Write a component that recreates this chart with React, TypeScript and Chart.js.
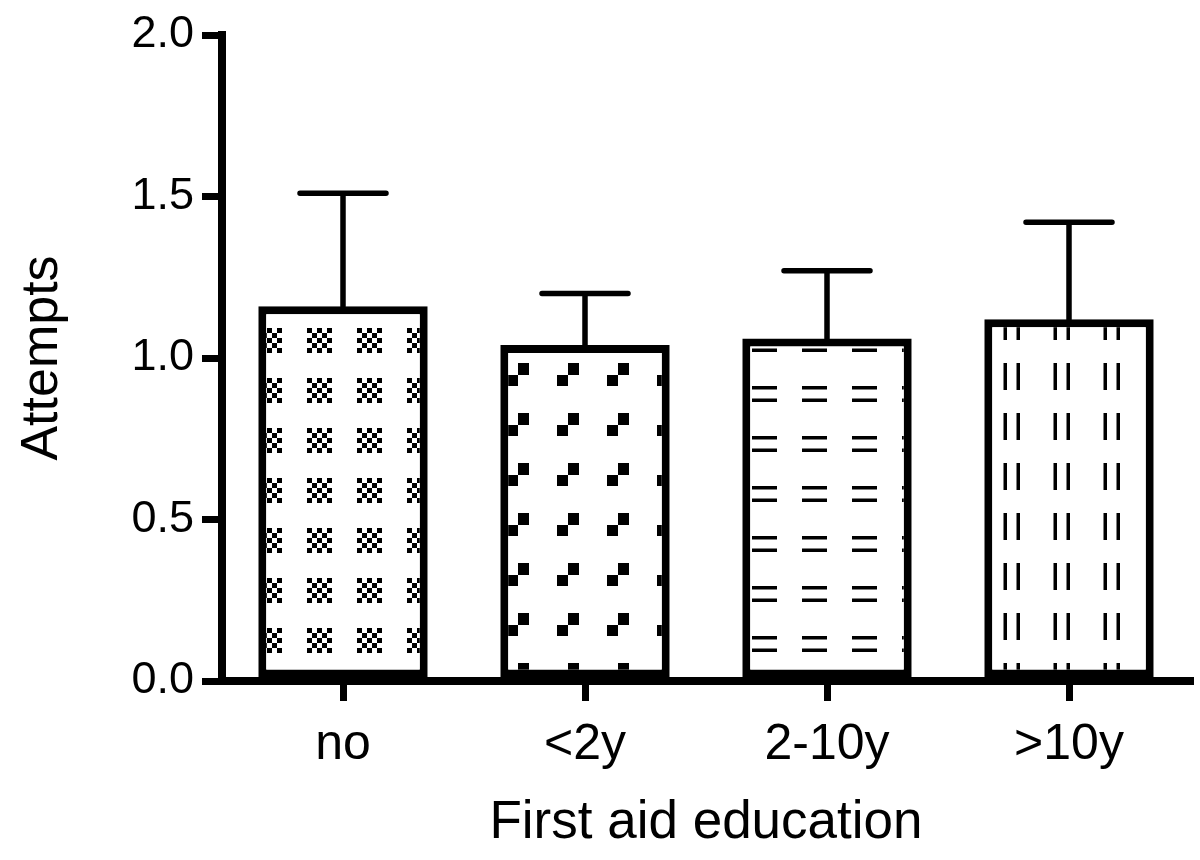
import React, { useEffect, useRef } from "react";
import { Chart, registerables } from "chart.js";

Chart.register(...registerables);

const categories = ["no", "<2y", "2-10y", ">10y"];
const means = [1.16, 1.04, 1.06, 1.12];
const upperErrors = [0.35, 0.16, 0.21, 0.3];
const yTicks = [0, 0.5, 1.0, 1.5, 2.0];
const xTitle = "First aid education";
const yTitle = "Attempts";

const FONT = "'Liberation Sans', Arial, Helvetica, sans-serif";
const P = 50;

function makePattern(draw: (c: CanvasRenderingContext2D) => void): CanvasPattern | string {
  const cv = document.createElement("canvas");
  cv.width = P;
  cv.height = P;
  const c = cv.getContext("2d");
  if (!c) return "#fff";
  c.fillStyle = "#fff";
  c.fillRect(0, 0, P, P);
  c.fillStyle = "#000";
  for (const dx of [-P, 0, P]) {
    for (const dy of [-P, 0, P]) {
      c.save();
      c.translate(dx, dy);
      draw(c);
      c.restore();
    }
  }
  return c.createPattern(cv, "repeat") || "#fff";
}

function buildPatterns() {
  const p1 = makePattern((c) => {
    for (let r = 0; r < 5; r++) {
      for (let k = 0; k < 5; k++) {
        if ((r + k) % 2 === 0) c.fillRect(7 + k * 5, 28 + r * 5, 5, 5);
      }
    }
  });
  const p2 = makePattern((c) => {
    c.fillRect(18, 13, 11, 12);
    c.fillRect(7, 25, 11, 11);
  });
  const p3 = makePattern((c) => {
    c.fillRect(2, 36, 25, 3.5);
    c.fillRect(2, 48.5, 25, 3.5);
  });
  const p4 = makePattern((c) => {
    c.fillRect(3.5, 13, 3.5, 27);
    c.fillRect(16.5, 13, 3.5, 27);
  });
  return [p1, p2, p3, p4];
}

const errorBarPlugin = {
  id: "errorBars",
  afterDatasetsDraw(chart: any) {
    const ctx = chart.ctx as CanvasRenderingContext2D;
    const meta = chart.getDatasetMeta(0);
    const y = chart.scales.y;
    ctx.save();
    ctx.strokeStyle = "#000";
    ctx.lineWidth = 5.5;
    ctx.lineCap = "round";
    meta.data.forEach((bar: any, i: number) => {
      const x = bar.x;
      const top = y.getPixelForValue(means[i]);
      const e = y.getPixelForValue(means[i] + upperErrors[i]);
      ctx.beginPath();
      ctx.moveTo(x, top);
      ctx.lineTo(x, e);
      ctx.moveTo(x - 43, e);
      ctx.lineTo(x + 43, e);
      ctx.stroke();
    });
    ctx.restore();
  },
};

export default function App() {
  const ref = useRef<HTMLCanvasElement | null>(null);

  useEffect(() => {
    if (!ref.current) return;
    const patterns = buildPatterns();
    const chart = new Chart(ref.current, {
      type: "bar",
      data: {
        labels: categories,
        datasets: [
          {
            data: means,
            backgroundColor: patterns as any,
            borderColor: "#000",
            borderWidth: 8,
            borderSkipped: false,
            barPercentage: 0.7,
            categoryPercentage: 1,
          },
        ],
      },
      options: {
        animation: false,
        responsive: false,
        layout: { padding: { top: 35, right: 10, left: 0, bottom: 0 } },
        plugins: {
          legend: { display: false },
          tooltip: { enabled: false },
        },
        scales: {
          x: {
            type: "category",
            offset: true,
            grid: {
              display: true,
              drawOnChartArea: false,
              drawTicks: true,
              tickLength: 20,
              lineWidth: 7,
              color: "#000",
              offset: false,
            },
            border: { display: true, width: 8, color: "#000" },
            ticks: {
              font: { family: FONT, size: 50 },
              color: "#000",
              padding: 14,
              maxRotation: 0,
            },
            title: {
              display: true,
              text: xTitle,
              font: { family: FONT, size: 53 },
              color: "#000",
              padding: { top: 10, bottom: 5 },
            },
            afterFit: (s: any) => {
              s.height = 179;
            },
          },
          y: {
            type: "linear",
            min: 0,
            max: 2,
            afterBuildTicks: (s: any) => {
              s.ticks = yTicks.map((v) => ({ value: v }));
            },
            grid: {
              display: true,
              drawOnChartArea: false,
              drawTicks: true,
              tickLength: 20,
              lineWidth: 7,
              color: "#000",
            },
            border: { display: true, width: 8, color: "#000" },
            ticks: {
              font: { family: FONT, size: 45 },
              color: "#000",
              padding: 8,
              callback: (v: any) => Number(v).toFixed(1),
            },
            title: {
              display: true,
              text: yTitle,
              font: { family: FONT, size: 52 },
              color: "#000",
              padding: { top: 11, bottom: 0 },
            },
            afterFit: (s: any) => {
              s.width = 222;
            },
          },
        },
      },
      plugins: [errorBarPlugin],
    });
    return () => chart.destroy();
  }, []);

  return (
    <div
      style={{
        position: "fixed",
        left: 0,
        top: 0,
        width: 1200,
        height: 860,
        background: "#fff",
      }}
    >
      <canvas ref={ref} width={1200} height={860} />
    </div>
  );
}
